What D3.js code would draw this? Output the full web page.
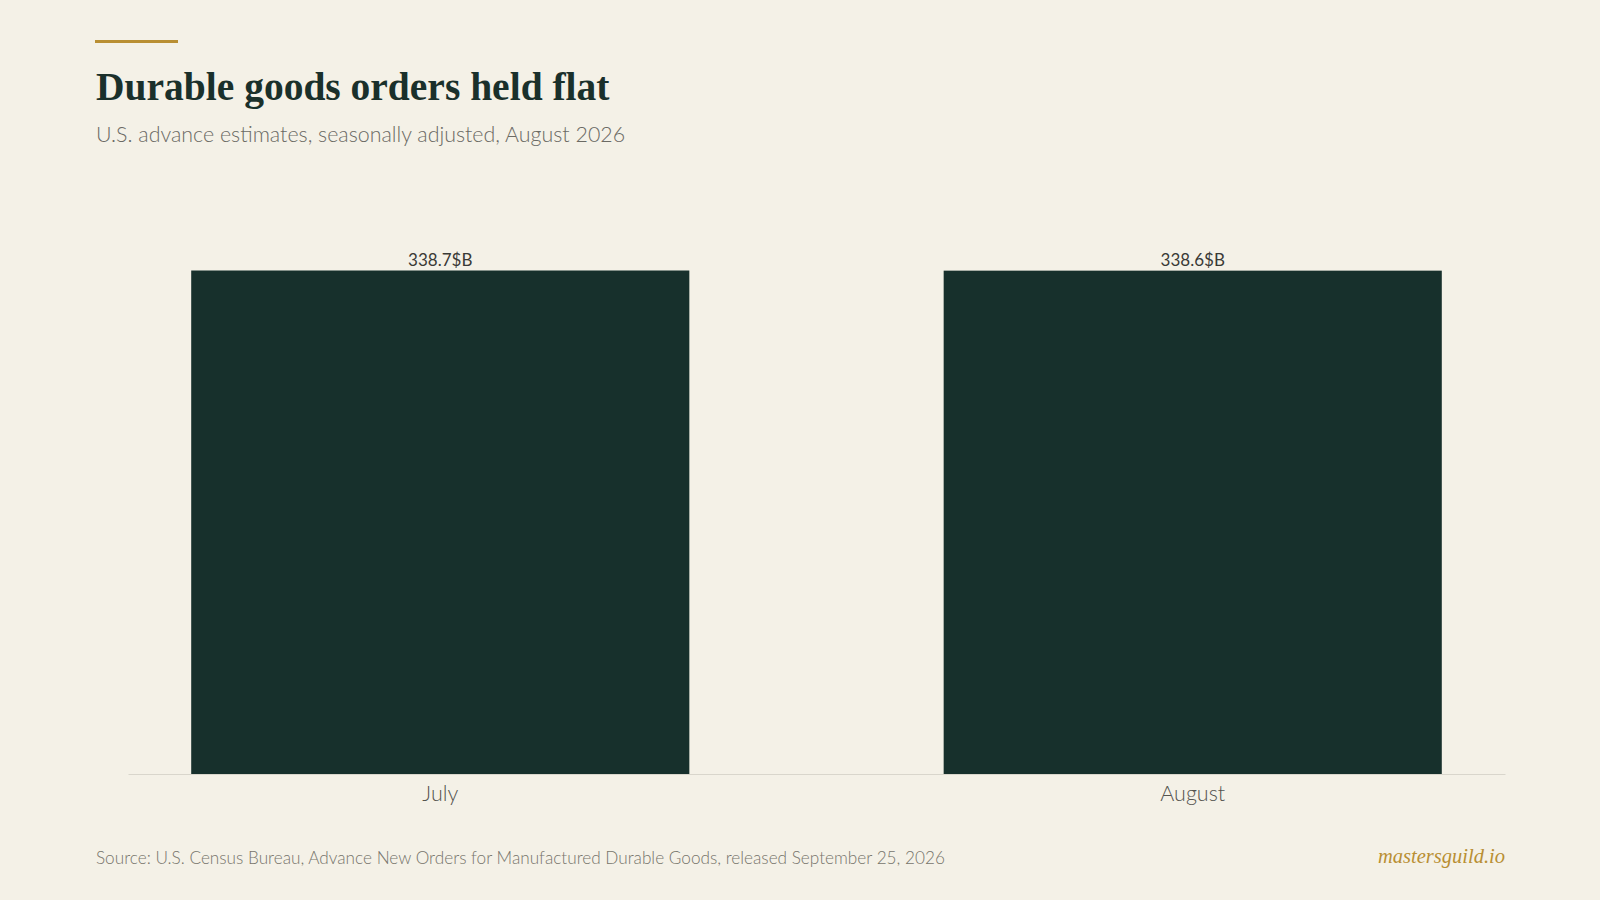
<!DOCTYPE html>
<html>
<head>
<meta charset="utf-8">
<script src="https://cdn.jsdelivr.net/npm/d3@7"></script>
<style>
  html, body { margin: 0; padding: 0; background: #f4f1e7; }
  svg { display: block; }
</style>
</head>
<body>
<div id="chart"></div>
<script>
// chart data
var months = ["July", "August"];
var orders = [338.7, 338.6];   // $B, seasonally adjusted
var valueLabels = ["338.7$B", "338.6$B"];

var title = "Durable goods orders held flat";
var subtitle = "U.S. advance estimates, seasonally adjusted, August 2026";
var source = "Source: U.S. Census Bureau, Advance New Orders for Manufactured Durable Goods, released September 25, 2026";
var brand = "mastersguild.io";

var width = 1600, height = 900;
var sans = "Lato, 'Open Sans', sans-serif";
var serif = "'Liberation Serif', 'DejaVu Serif', serif";

var svg = d3.select("#chart").append("svg")
  .attr("width", width)
  .attr("height", height);

svg.append("rect")
  .attr("width", width).attr("height", height)
  .attr("fill", "#f4f1e7");

// header
svg.append("rect")
  .attr("x", 95).attr("y", 40)
  .attr("width", 83).attr("height", 3)
  .attr("fill", "#b98f33");

svg.append("text")
  .attr("x", 96).attr("y", 100)
  .attr("font-family", serif)
  .attr("font-weight", 700)
  .attr("font-size", 39.5)
  .attr("fill", "#1a302b")
  .text(title);

svg.append("text")
  .attr("x", 96).attr("y", 142)
  .attr("font-family", sans)
  .attr("font-weight", 300)
  .attr("font-size", 21.4)
  .attr("fill", "#6b6a64")
  .text(subtitle);

// plot area
var margin = {top: 221, right: 95, bottom: 126, left: 128};
var plotW = width - margin.left - margin.right,
    plotH = height - margin.top - margin.bottom;

var g = svg.append("g")
  .attr("transform", "translate(" + margin.left + "," + margin.top + ")");

var x = d3.scaleBand()
  .domain(months)
  .range([0, plotW])
  .paddingInner(0.338)
  .paddingOuter(0.084);

var y = d3.scaleLinear()
  .domain([0, 372])
  .range([plotH, 0]);

g.selectAll(".bar")
  .data(orders)
  .enter()
  .append("rect")
  .attr("class", "bar")
  .attr("x", function(d, i) { return x(months[i]); })
  .attr("y", function(d) { return y(d); })
  .attr("width", x.bandwidth())
  .attr("height", function(d) { return plotH - y(d); })
  .attr("fill", "#17302c");

g.selectAll(".val")
  .data(orders)
  .enter()
  .append("text")
  .attr("class", "val")
  .attr("x", function(d, i) { return x(months[i]) + x.bandwidth() / 2; })
  .attr("y", function(d) { return y(d) - 5; })
  .attr("text-anchor", "middle")
  .attr("font-family", sans)
  .attr("font-weight", 400)
  .attr("font-size", 17)
  .attr("fill", "#3a3a36")
  .text(function(d, i) { return valueLabels[i]; });

// x axis
var xAxis = g.append("g")
  .attr("transform", "translate(0," + plotH + ")")
  .call(d3.axisBottom(x).tickSize(0).tickPadding(12));

xAxis.select(".domain")
  .attr("stroke", "#d9d6cc")
  .attr("stroke-width", 1);

xAxis.selectAll("text")
  .attr("font-family", sans)
  .attr("font-weight", 300)
  .attr("font-size", 21.5)
  .attr("fill", "#55544f");

// footer
svg.append("text")
  .attr("x", 96).attr("y", 864)
  .attr("font-family", sans)
  .attr("font-weight", 300)
  .attr("font-size", 17.2)
  .attr("fill", "#77756c")
  .text(source);

svg.append("text")
  .attr("x", 1505).attr("y", 863)
  .attr("text-anchor", "end")
  .attr("font-family", serif)
  .attr("font-style", "italic")
  .attr("font-size", 20.5)
  .attr("fill", "#b98f33")
  .text(brand);
</script>
</body>
</html>
